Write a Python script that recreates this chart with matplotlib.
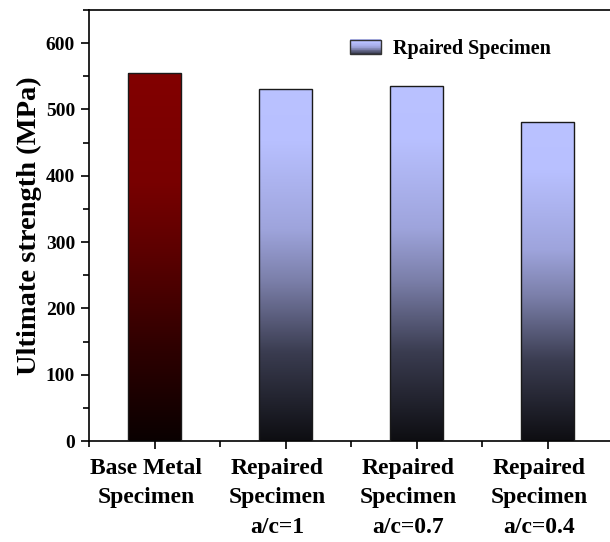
import numpy as np
import matplotlib
matplotlib.use("Agg")
import matplotlib.pyplot as plt
from matplotlib.colors import LinearSegmentedColormap
from matplotlib.patches import Rectangle
from matplotlib.legend_handler import HandlerBase

categories = ["Base Metal\nSpecimen", "Repaired\nSpecimen\na/c=1",
              "Repaired\nSpecimen\na/c=0.7", "Repaired\nSpecimen\na/c=0.4"]
values = [555, 531, 535, 481]
legend_label = "Rpaired Specimen"
ylabel = "Ultimate strength (MPa)"

plt.rcParams['font.family'] = ['Liberation Serif', 'DejaVu Serif']
plt.rcParams['font.weight'] = 'bold'

red_cmap = LinearSegmentedColormap.from_list(
    "r", [(0.0, "#0a0000"), (0.25, "#2e0000"), (0.5, "#5a0000"),
          (0.7, "#780000"), (1.0, "#820000")])
blue_cmap = LinearSegmentedColormap.from_list(
    "b", [(0.0, "#0e0e12"), (0.25, "#3a3c50"), (0.45, "#7a7ea8"),
          (0.6, "#9ea4dc"), (0.85, "#b8c0ff"), (1.0, "#bac2ff")])

fig = plt.figure(figsize=(6.10, 5.42), dpi=100)
ax = fig.add_axes([89/610, 101/542, 524/610, 431/542])

x = np.arange(1, len(values) + 1)
width = 0.4
bars = ax.bar(x, values, width=width, facecolor='none', edgecolor='#1a1a1a',
              linewidth=1.0, zorder=3)
grad = np.linspace(0, 1, 256).reshape(-1, 1)
for i, b in enumerate(bars):
    cmap = red_cmap if i == 0 else blue_cmap
    x0, y0 = b.get_x(), b.get_y()
    w, h = b.get_width(), b.get_height()
    im = ax.imshow(grad, cmap=cmap, origin='lower', aspect='auto',
                   extent=[x0, x0 + w, y0, y0 + h], zorder=2)
    im.set_clip_path(b)

ax.set_xlim(0.5, 4.5)
ax.set_ylim(0, 650)
ax.set_yticks(np.arange(0, 601, 100))
ax.set_yticks(np.arange(0, 651, 50), minor=True)
ax.set_xticks(x)
ax.set_xticks(np.arange(0.5, 4.6, 1.0), minor=True)
ax.set_xticklabels([])
for xi, lab in zip(x, categories):
    ax.annotate(lab, xy=(xi, 0), xycoords=('data', 'axes fraction'),
                xytext=(-5.8, -12), textcoords='offset points',
                ha='center', va='top', multialignment='center',
                fontsize=17, fontweight='bold', linespacing=1.55)
for lab in ax.get_yticklabels():
    lab.set_fontsize(14)
    lab.set_fontweight('bold')
ax.tick_params(axis='both', which='major', direction='out', length=6, width=1.2)
ax.tick_params(axis='both', which='minor', direction='out', length=4, width=1.2)
ax.tick_params(axis='y', which='major', pad=4)
for s in ax.spines.values():
    s.set_linewidth(1.2)
ax.set_ylabel(ylabel, fontsize=20.5, fontweight='bold', labelpad=3)


class HandlerGrad(HandlerBase):
    def create_artists(self, legend, orig_handle, xdescent, ydescent,
                       width, height, fontsize, trans):
        arts = []
        n = 20
        for k in range(n):
            c = blue_cmap(0.2 + 0.8 * (k + 0.5) / n)
            r = Rectangle((-xdescent, -ydescent + height * k / n),
                          width, height / n + 0.3, facecolor=c, edgecolor='none',
                          transform=trans)
            arts.append(r)
        border = Rectangle((-xdescent, -ydescent), width, height, facecolor='none',
                           edgecolor='#333333', linewidth=1.0, transform=trans)
        arts.append(border)
        return arts


proxy = Rectangle((0, 0), 1, 1)
ax.legend([proxy], [legend_label], handler_map={Rectangle: HandlerGrad()},
          loc='center left', bbox_to_anchor=((350 - 89) / 524, (441 - 49) / 431),
          frameon=False, borderpad=0, borderaxespad=0,
          prop={'family': 'Liberation Serif', 'weight': 'bold', 'size': 14.5},
          handlelength=1.55, handleheight=0.7, handletextpad=0.6)

fig.savefig("out.png", dpi=100)
